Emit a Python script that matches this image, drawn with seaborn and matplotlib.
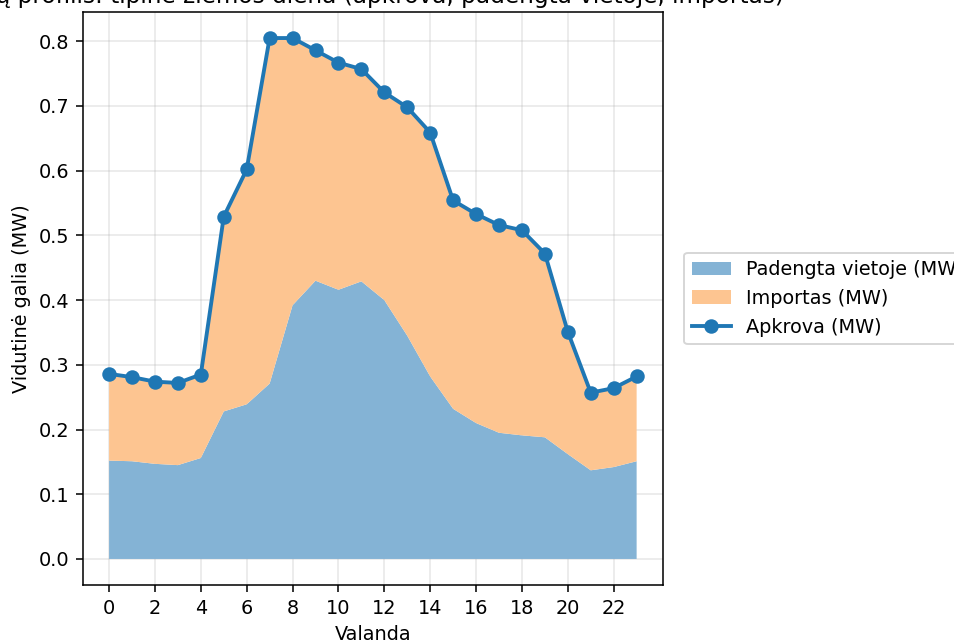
import numpy as np
import pandas as pd
import matplotlib
matplotlib.use("Agg")
import matplotlib.pyplot as plt
import seaborn as sns

hours = list(range(24))
load_mw = [0.286, 0.281, 0.274, 0.272, 0.285, 0.529, 0.602, 0.805, 0.805, 0.786,
           0.767, 0.757, 0.721, 0.698, 0.659, 0.554, 0.533, 0.516, 0.508, 0.472,
           0.351, 0.257, 0.264, 0.282]
local_mw = [0.152, 0.151, 0.147, 0.145, 0.156, 0.228, 0.239, 0.271, 0.392, 0.430,
            0.416, 0.429, 0.400, 0.345, 0.282, 0.232, 0.210, 0.195, 0.191, 0.188,
            0.162, 0.137, 0.142, 0.151]
import_mw = [l - c for l, c in zip(load_mw, local_mw)]

title = "Jūsų profilis: tipinė žiemos diena (apkrova, padengta vietoje, importas)"

plt.rcParams["font.family"] = ["DejaVu Sans"]

df = pd.DataFrame({"Valanda": hours, "Apkrova": load_mw})

DPI = 139
fig = plt.figure(figsize=(954 / DPI, 641 / DPI), dpi=DPI)
ax = fig.add_axes([82.7 / 954, 1 - 585 / 641, (663 - 82.7) / 954, (585 - 12) / 641])

ax.stackplot(hours, local_mw, import_mw,
             colors=["#84b3d5", "#fdc591"], linewidth=0,
             labels=["Padengta vietoje (MW)", "Importas (MW)"])
sns.lineplot(data=df, x="Valanda", y="Apkrova", ax=ax, color="#1f77b4",
             linewidth=2, marker="o", markersize=6.5,
             markeredgecolor="#1f77b4", markeredgewidth=1,
             label="Apkrova (MW)")

top = max(load_mw)
ax.set_ylim(-0.05 * top, 1.05 * top)
ax.set_xticks(range(0, 24, 2))
ax.set_yticks(np.arange(0, 0.81, 0.1))
ax.set_xlabel("Valanda")
ax.set_ylabel("Vidutinė galia (MW)")
ax.set_title(title, fontsize=12, pad=4.5)
ax.grid(True, alpha=0.3)
ax.set_axisbelow(True)

ax.legend(loc="center left", bbox_to_anchor=(1.02, 0.5))

fig.savefig("out.png", dpi=DPI)
